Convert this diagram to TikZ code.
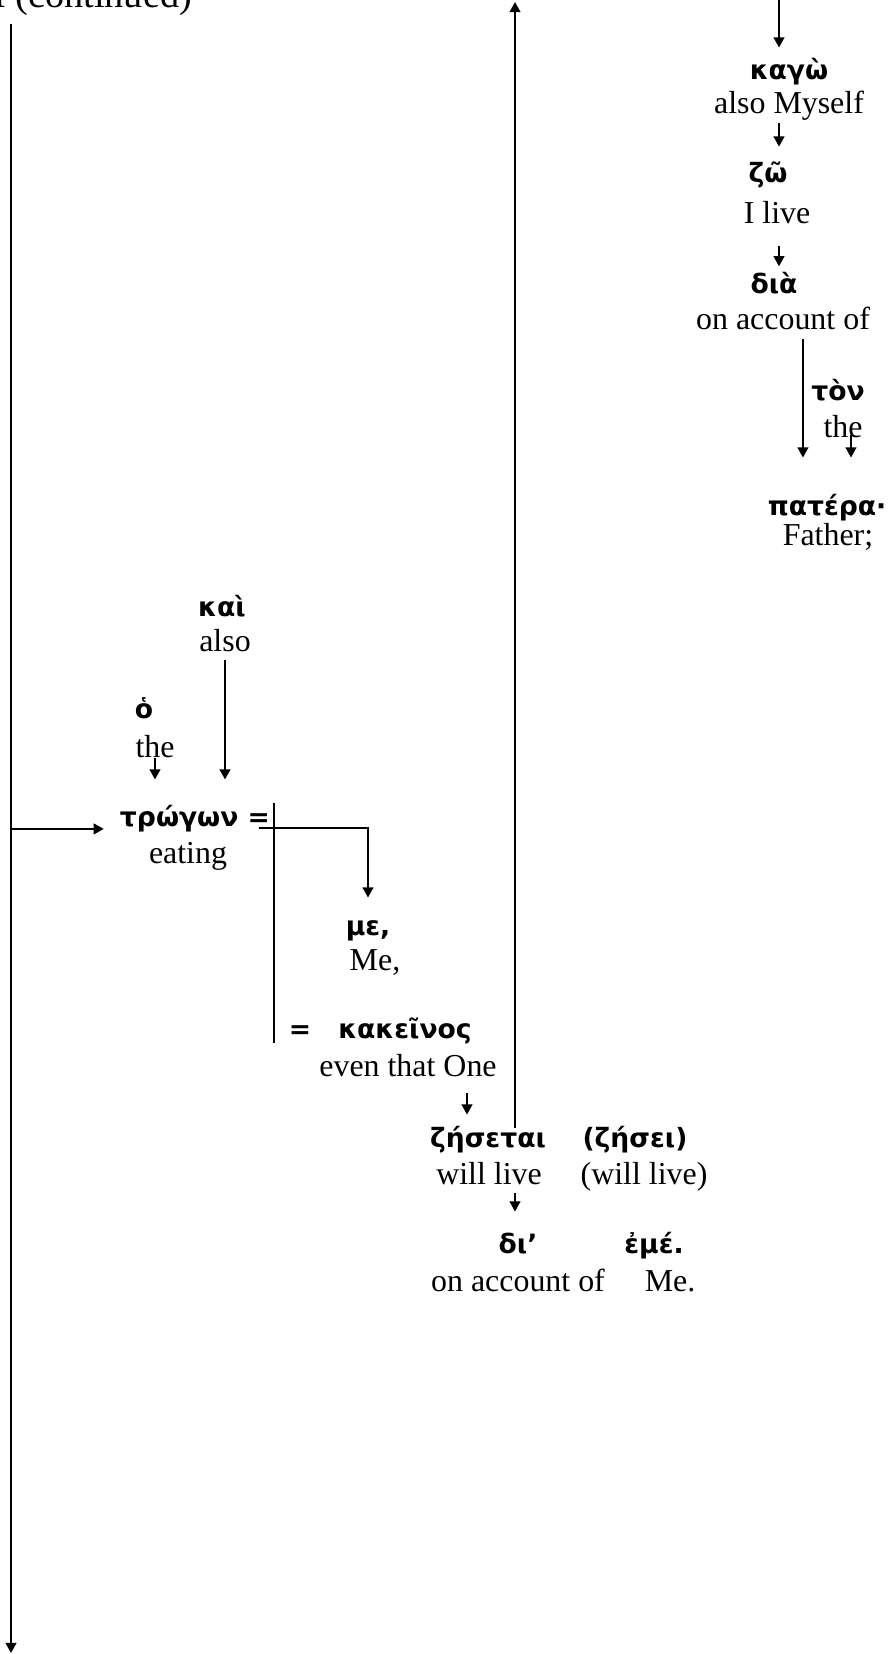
\documentclass[tikz,border=0pt]{standalone}
\usepackage{fontspec}
\setmainfont{Liberation Serif}
\newfontfamily\gkfont{DejaVu Sans}
\usetikzlibrary{arrows.meta}

\begin{document}
\begin{tikzpicture}[
  x=0.376pt, y=-0.376pt,
  gk/.style={font=\gkfont\bfseries\fontsize{10}{12}\selectfont,
             inner sep=0pt, text height=7pt, text depth=2pt, anchor=base},
  gl/.style={font=\fontsize{12}{14}\selectfont,
             inner sep=0pt, text height=8pt, text depth=3pt, anchor=base},
  arr/.style={-{Triangle[length=3.8pt,width=4pt]}, line width=0.75pt},
  bar/.style={line width=0.75pt},
]
  \useasboundingbox (0,0) rectangle (894,1654);

  % Heading, cut by the page edge
  \node[gl, anchor=base west, font=\fontsize{14.4}{17}\selectfont] (cont) at (-7.4,8) {I (continued)};

  % Right column
  \node[gk] (kago) at (789,80) {καγὼ};
  \node[gl] (kagoG) at (789,114) {also Myself};
  \node[gk] (zo) at (768,183) {ζῶ};
  \node[gl] (zoG) at (777,224) {I live};
  \node[gk] (dia) at (774,294) {διὰ};
  \node[gl] (diaG) at (783,330) {on account of};
  \node[gk] (ton) at (838,400) {τὸν};
  \node[gl] (tonG) at (843,437) {the};
  \node[gk] (pater) at (827,515) {πατέρα·};
  \node[gl] (paterG) at (828,545) {Father;};

  % Left column
  \node[gk] (kai) at (222,616) {καὶ};
  \node[gl] (kaiG) at (225,651) {also};
  \node[gk] (ho) at (144,718) {ὁ};
  \node[gl] (hoG) at (155,757) {the};
  \node[gk] (trogon) at (195,826) {τρώγων =};
  \node[gl] (trogonG) at (188,863) {eating};
  \node[gk] (me) at (368,935) {με,};
  \node[gl] (meG) at (375,970) {Me,};
  \node[gk] (eq) at (300,1038) {=};
  \node[gk] (kakeinos) at (405,1038) {κακεῖνος};
  \node[gl] (kakeinosG) at (408,1076) {even that One};

  % Middle
  \node[gk] (zesetai) at (488,1147) {ζήσεται};
  \node[gk] (zesei) at (635,1147) {(ζήσει)};
  \node[gl] (zesetaiG) at (489,1184) {will live};
  \node[gl] (zeseiG) at (644,1184) {(will live)};
  \node[gk] (di) at (518,1253) {δι’};
  \node[gk] (eme) at (654,1253) {ἐμέ.};
  \node[gl] (diG) at (518,1291) {on account of};
  \node[gl] (emeG) at (670,1291) {Me.};

  % Free ends and columns
  \coordinate (spineTop) at (11,24);
  \coordinate (spineEnd) at (11,1653);
  \coordinate (upOut) at (515,2);
  \coordinate (kagoIn) at (779,0);
  \coordinate (eqTop) at (274,803);
  \coordinate (eqBot) at (274,1043);
  \path ([xshift=7.5pt]diaG.south) coordinate (diaOut);
  \path ([xshift=3pt]tonG.south) coordinate (tonOut);
  \path ([xshift=-7.9pt]zesetai.north) coordinate (zIn);

  % Right chain
  \draw[arr, shorten >=5pt] (kagoIn) -- (kagoIn |- kago.north);
  \draw[arr, shorten >=6.5pt] (kagoIn |- kagoG.south) -- (kagoIn |- zo.north);
  \draw[arr, shorten <=4.9pt, shorten >=3.2pt] (kagoIn |- zoG.south) -- (kagoIn |- dia.north);
  \draw[arr, shorten >=14.4pt] (diaOut) -- (diaOut |- pater.north);
  \draw[arr, shorten <=-3.8pt, shorten >=14.4pt] (tonOut) -- (tonOut |- pater.north);

  % Left chain
  \draw[arr] (spineTop) -- (spineEnd);
  \draw[arr, shorten >=5.9pt] ([yshift=-1.1pt]spineTop |- trogon.base) -- ([yshift=-1.1pt]trogon.base west);
  \draw[arr, shorten >=10.3pt] (kaiG.south) -- (kaiG.south |- trogon.north);
  \draw[arr, shorten <=-3pt, shorten >=10.3pt] (hoG.south) -- (hoG.south |- trogon.north);
  \draw[arr, shorten >=6.9pt] ([xshift=-4.5pt,yshift=-0.8pt]trogon.base east) -| (me.north);
  \draw[bar] (eqTop) -- (eqBot);

  % Middle chain
  \draw[arr, shorten <=3pt, shorten >=5pt] (zIn |- kakeinosG.south) -- (zIn);
  \draw[arr] (upOut |- zesetai.north) -- (upOut);
  \draw[arr, shorten >=8.4pt] (upOut |- zesetaiG.south) -- (upOut |- di.north);
\end{tikzpicture}
\end{document}
